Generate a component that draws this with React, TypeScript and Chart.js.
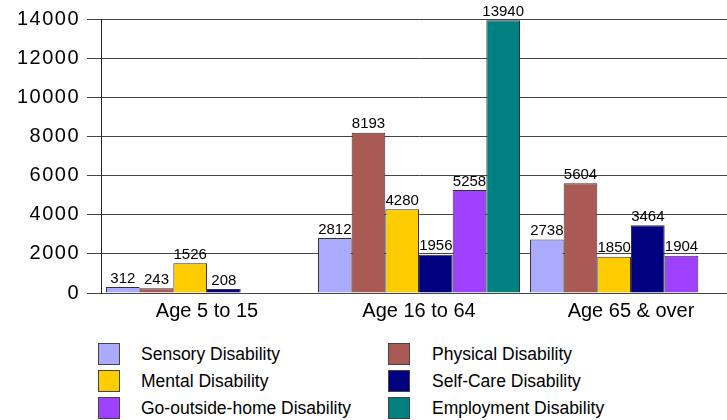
import React, { useEffect, useRef } from 'react';
import { Chart, registerables } from 'chart.js';

Chart.register(...registerables);

const categories = ['Age 5 to 15', 'Age 16 to 64', 'Age 65 & over'];
const seriesNames = [
  'Sensory Disability',
  'Physical Disability',
  'Mental Disability',
  'Self-Care Disability',
  'Go-outside-home Disability',
  'Employment Disability',
];
const sensory: (number | null)[] = [312, 2812, 2738];
const physical: (number | null)[] = [243, 8193, 5604];
const mental: (number | null)[] = [1526, 4280, 1850];
const selfCare: (number | null)[] = [208, 1956, 3464];
const goOutside: (number | null)[] = [null, 5258, 1904];
const employment: (number | null)[] = [null, 13940, null];
const seriesValues = [sensory, physical, mental, selfCare, goOutside, employment];
const seriesColors = ['#aaaaff', '#aa5a55', '#ffcc00', '#000080', '#a040ff', '#008080'];
const yMin = 0;
const yMax = 14000;
const yStep = 2000;

const FONT = "'Liberation Sans', Arial, sans-serif";

const spacing = {
  id: 'spacing',
  beforeDraw(chart: any) {
    chart.ctx.letterSpacing = '1.5px';
  },
  beforeDatasetsDraw(chart: any) {
    chart.ctx.letterSpacing = '0px';
  },
};

const valueLabels = {
  id: 'valueLabels',
  afterDatasetsDraw(chart: any) {
    const ctx = chart.ctx;
    ctx.save();
    ctx.letterSpacing = '0px';
    ctx.font = `15px ${FONT}`;
    ctx.fillStyle = '#000';
    ctx.textAlign = 'center';
    ctx.textBaseline = 'bottom';
    chart.data.datasets.forEach((ds: any, i: number) => {
      const meta = chart.getDatasetMeta(i);
      meta.data.forEach((el: any, j: number) => {
        const v = ds.data[j];
        if (v == null) return;
        ctx.fillText(String(v), el.x, el.y - 1);
      });
    });
    ctx.restore();
  },
};

export default function App() {
  const ref = useRef<HTMLCanvasElement | null>(null);
  useEffect(() => {
    if (!ref.current) return;
    const chart = new Chart(ref.current, {
      type: 'bar',
      data: {
        labels: categories,
        datasets: seriesNames.map((name, i) => ({
          label: name,
          data: seriesValues[i],
          backgroundColor: seriesColors[i],
          borderColor: '#333333',
          borderWidth: 1,
          barPercentage: 1,
          categoryPercentage: 0.953,
        })),
      },
      options: {
        responsive: false,
        animation: false,
        devicePixelRatio: 1,
        layout: { padding: { top: 19, left: 0, right: 3, bottom: 0 } },
        plugins: { legend: { display: false }, tooltip: { enabled: false } },
        scales: {
          x: {
            afterFit(scale: any) {
              scale.height = 37;
            },
            grid: { display: false, drawTicks: false },
            border: { display: false },
            ticks: { z: 1, color: '#000', font: { family: FONT, size: 20 }, padding: 6, maxRotation: 0 },
          },
          y: {
            min: yMin,
            max: yMax,
            afterFit(scale: any) {
              scale.width = 101;
            },
            grid: { color: '#444444', lineWidth: 1, drawTicks: true, tickLength: 14, tickColor: '#444444' },
            border: { display: true, color: '#222222', width: 1 },
            ticks: {
              stepSize: yStep,
              color: '#000',
              font: { family: FONT, size: 20 },
              padding: 7,
              callback: (v: any) => String(v),
            },
          },
        },
      },
      plugins: [spacing, valueLabels],
    });
    return () => chart.destroy();
  }, []);

  const rows = [0, 1, 2];
  return (
    <div style={{ position: 'absolute', left: 0, top: 0, width: 727, height: 420, overflow: 'hidden', background: '#fff' }}>
      <canvas ref={ref} width={740} height={330} style={{ position: 'absolute', left: 0, top: 0, width: 740, height: 330 }} />
      {rows.map((r) =>
        [0, 1].map((c) => {
          const idx = r * 2 + c;
          const boxLeft = c === 0 ? 98 : 388;
          const textLeft = c === 0 ? 141 : 432;
          const top = 343 + r * 27;
          return (
            <React.Fragment key={idx}>
              <div
                style={{
                  position: 'absolute',
                  left: boxLeft,
                  top,
                  width: 20,
                  height: 20,
                  background: seriesColors[idx],
                  border: '1px solid #444',
                }}
              />
              <div
                style={{
                  position: 'absolute',
                  left: textLeft,
                  top,
                  height: 22,
                  lineHeight: '22px',
                  fontFamily: FONT,
                  fontSize: 17.5,
                  color: '#000',
                  whiteSpace: 'nowrap',
                }}
              >
                {seriesNames[idx]}
              </div>
            </React.Fragment>
          );
        })
      )}
    </div>
  );
}
